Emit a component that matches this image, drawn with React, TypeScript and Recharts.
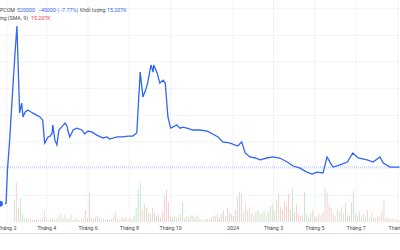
import { ComposedChart, Line, Bar, Cell, XAxis, YAxis, CartesianGrid, ReferenceLine } from 'recharts';

// price line: day offset from 1 Feb 2023, price in thousand VND
const priceDays = [
  -10, -3, -1, 1, 4, 9, 12, 15, 17, 19, 22, 24, 27, 31, 38, 44, 49, 53, 56, 61,
  64, 67, 68, 71, 74, 77, 81, 86, 89, 90, 93, 98, 103, 111, 115, 120, 126, 133, 142, 148,
  152, 163, 171, 179, 186, 192, 197, 201, 205, 208, 213, 216, 217, 222, 226, 231, 234, 238, 242, 245,
  251, 256, 260, 266, 275, 282, 285, 296, 304, 312, 319, 330, 341, 347, 352, 359, 367, 374, 384, 393,
  403, 414, 423, 433, 443, 451, 458, 467, 473, 478, 482, 492, 503, 511, 519, 532, 541, 551, 556, 566,
  571, 580,
];
const priceValues = [
  368, 368, 371, 495, 596, 806, 926, 1035, 870, 709, 746, 694, 712, 720, 709, 701, 694, 682, 596, 619,
  622, 634, 664, 607, 589, 645, 656, 671, 660, 645, 619, 645, 652, 645, 630, 641, 637, 626, 615, 619,
  611, 619, 619, 622, 622, 634, 862, 769, 795, 821, 889, 862, 889, 859, 821, 832, 821, 694, 652, 656,
  664, 652, 656, 652, 645, 645, 645, 641, 630, 619, 600, 596, 585, 600, 559, 544, 540, 533, 540, 544,
  540, 525, 510, 502, 487, 480, 487, 484, 544, 521, 506, 514, 525, 559, 540, 533, 525, 544, 521, 506,
  506, 506,
];

// volume per 3-day slot starting day -10, in thousand shares; 'g' up / 'r' down
const volumes = [
  0, 0, 0, 0, 0, 0, 0, 220, 400, 150, 240, 80, 30, 40, 20, 30, 20, 20, 30, 20,
  20, 40, 110, 30, 20, 20, 30, 20, 30, 50, 80, 40, 70, 30, 40, 80, 20, 30, 40, 20,
  30, 30, 120, 40, 300, 40, 30, 50, 60, 40, 30, 30, 20, 30, 20, 30, 50, 100, 30, 20,
  50, 40, 50, 30, 40, 30, 60, 140, 320, 390, 120, 180, 140, 100, 80, 140, 90, 60, 70, 50,
  100, 260, 320, 200, 60, 50, 60, 40, 50, 80, 200, 40, 60, 50, 70, 60, 50, 70, 40, 30,
  20, 30, 30, 20, 50, 70, 60, 80, 50, 90, 120, 60, 140, 100, 80, 60, 120, 250, 300, 280,
  100, 180, 120, 150, 90, 70, 100, 120, 80, 90, 110, 70, 100, 160, 180, 120, 220, 280, 150, 120,
  200, 160, 280, 120, 340, 100, 180, 80, 60, 70, 300, 80, 50, 90, 120, 60, 50, 80, 70, 100,
  340, 290, 180, 140, 80, 60, 120, 100, 150, 80, 190, 70, 60, 200, 310, 80, 60, 100, 50, 80,
  60, 120, 40, 90, 50, 40, 60, 50, 100, 220, 40, 50, 30, 40, 30, 30, 20, 20,
];
const volumeSides = [
  'g', 'g', 'g', 'g', 'g', 'g', 'g', 'g', 'r', 'g', 'g', 'g', 'r', 'g', 'r', 'g', 'r', 'g', 'r', 'g',
  'r', 'r', 'r', 'g', 'r', 'g', 'g', 'r', 'g', 'g', 'g', 'r', 'g', 'r', 'g', 'g', 'r', 'g', 'r', 'g',
  'r', 'g', 'r', 'r', 'r', 'g', 'r', 'g', 'g', 'r', 'g', 'r', 'g', 'r', 'g', 'r', 'r', 'r', 'g', 'r',
  'g', 'g', 'r', 'g', 'r', 'g', 'g', 'g', 'g', 'g', 'r', 'g', 'r', 'g', 'r', 'r', 'g', 'r', 'g', 'r',
  'r', 'r', 'r', 'r', 'g', 'r', 'g', 'r', 'g', 'g', 'g', 'r', 'g', 'r', 'g', 'r', 'g', 'r', 'g', 'g',
  'r', 'g', 'r', 'g', 'r', 'g', 'r', 'g', 'r', 'r', 'r', 'g', 'r', 'r', 'g', 'r', 'r', 'r', 'r', 'r',
  'g', 'r', 'g', 'r', 'g', 'r', 'g', 'g', 'r', 'g', 'g', 'r', 'g', 'g', 'g', 'r', 'g', 'r', 'g', 'r',
  'r', 'r', 'r', 'g', 'g', 'r', 'r', 'r', 'g', 'r', 'g', 'g', 'r', 'g', 'r', 'g', 'r', 'g', 'r', 'r',
  'g', 'r', 'r', 'r', 'g', 'r', 'g', 'r', 'g', 'r', 'g', 'r', 'g', 'g', 'g', 'r', 'g', 'r', 'g', 'r',
  'g', 'r', 'g', 'r', 'g', 'r', 'g', 'r', 'r', 'r', 'g', 'r', 'g', 'r', 'g', 'r', 'g', 'r',
];

const tickDays = [0, 59, 120, 181, 242, 334, 394, 455, 516, 578];
const tickLabels = ['Tháng 2', 'Tháng 4', 'Tháng 6', 'Tháng 8', 'Tháng 10', '2024', 'Tháng 3', 'Tháng 5', 'Tháng 7', 'Tháng 9'];
const priceGrid = [350, 400, 450, 500, 550, 600, 650, 700, 750, 800, 850, 900, 950, 1000, 1050, 1100];
const lastPrice = priceValues[priceValues.length - 1];

const priceData = priceDays.map((day, i) => ({ day, price: priceValues[i] }));
const volumeData = volumes.map((volume, i) => ({ day: -10 + 3 * i, volume, side: volumeSides[i] }));

const FONT = 'Roboto, "Noto Sans", sans-serif';

export default function App() {
  return (
    <div style={{ position: 'fixed', left: 0, top: 0, width: 400, height: 250, overflow: 'hidden', background: '#fff', fontFamily: FONT }}>
      <ComposedChart width={430} height={250} data={volumeData} margin={{ top: 0, right: 0, bottom: 0, left: 0 }}>
        <CartesianGrid
          yAxisId="price"
          stroke="#f0f3fa"
          horizontalValues={priceGrid}
          verticalValues={tickDays}
        />
        <XAxis
          dataKey="day"
          type="number"
          domain={[-10, 625]}
          allowDataOverflow
          ticks={tickDays}
          interval={0}
          tickFormatter={(v) => tickLabels[tickDays.indexOf(v)] ?? ''}
          axisLine={false}
          tickLine={false}
          tickSize={0}
          tickMargin={4}
          height={28}
          tick={{ fontSize: 5.3, fill: '#4a4a4a', fontFamily: FONT }}
        />
        <YAxis yAxisId="price" hide domain={[300, 1132.5]} ticks={priceGrid} allowDataOverflow />
        <YAxis yAxisId="vol" hide domain={[0, 2220]} allowDataOverflow />
        <Bar yAxisId="vol" dataKey="volume" barSize={1} isAnimationActive={false}>
          {volumeData.map((d, i) => (
            <Cell key={`v-${i}`} fill={d.side === 'g' ? '#a8d8a9' : '#f9b0b0'} />
          ))}
        </Bar>
        <ReferenceLine yAxisId="price" y={lastPrice} stroke="#a9c0f7" strokeDasharray="1 1" />
        <Line
          yAxisId="price"
          data={priceData}
          dataKey="price"
          type="linear"
          stroke="#2f66f6"
          strokeWidth={1.3}
          dot={false}
          isAnimationActive={false}
        />
      </ComposedChart>

      <div style={{ position: 'absolute', left: 0, top: 233, width: 400, height: 1, background: '#e0e3eb' }} />

      <div style={{ position: 'absolute', left: 0, top: 7, fontSize: 5.3, whiteSpace: 'nowrap', lineHeight: '7px' }}>
        <span style={{ position: 'absolute', right: -15, color: '#4a4a4a' }}>UPCOM</span>
        <span style={{ position: 'absolute', left: 17, color: '#2f66f6' }}>520000</span>
        <span style={{ position: 'absolute', left: 38, color: '#2f66f6' }}>−40000 (−7.77%)</span>
        <span style={{ position: 'absolute', left: 80, color: '#4a4a4a' }}>Khối lượng</span>
        <span style={{ position: 'absolute', left: 107, color: '#2f66f6' }}>15.207K</span>
      </div>
      <div style={{ position: 'absolute', left: 0, top: 15, fontSize: 5.3, whiteSpace: 'nowrap', lineHeight: '7px' }}>
        <span style={{ position: 'absolute', right: -28, color: '#4a4a4a' }}>Khối lượng (SMA, 9)</span>
        <span style={{ position: 'absolute', left: 31, color: '#f23645' }}>15.207K</span>
      </div>
    </div>
  );
}
